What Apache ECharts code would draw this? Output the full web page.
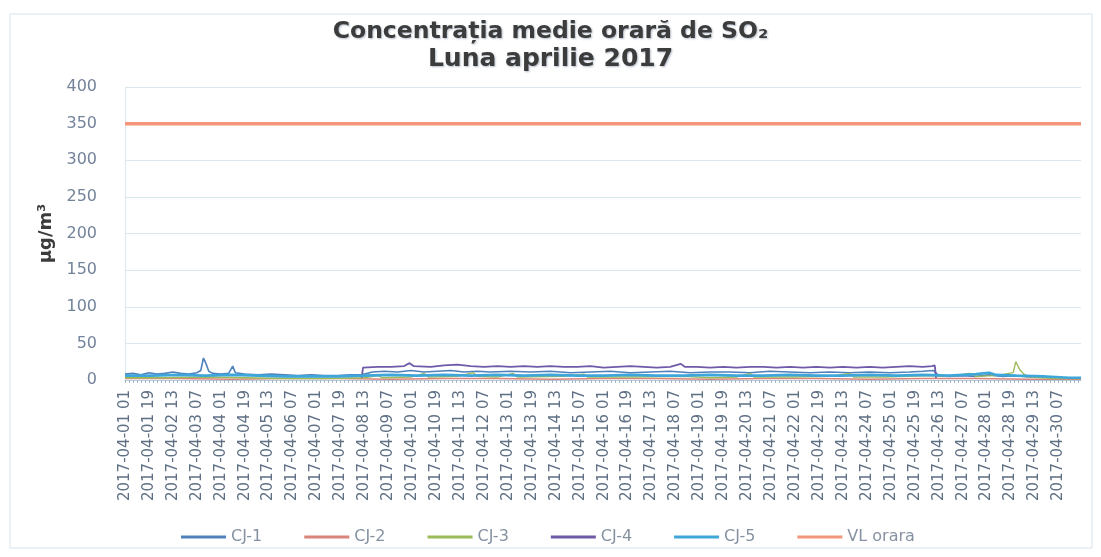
<!DOCTYPE html>
<html>
<head>
<meta charset="utf-8">
<script src="https://cdn.jsdelivr.net/npm/echarts@6/dist/echarts.min.js"></script>
<style>
html,body{margin:0;padding:0;background:#fff;}
#chart{width:1101px;height:557px;}
</style>
</head>
<body>
<div id="chart"></div>
<script>
// ---- data ----
const titleLine1 = 'Concentrația medie orară de SO₂';
const titleLine2 = 'Luna aprilie 2017';
const yAxisName = 'µg/m³';
const monthPrefix = '2017-04-';
const dayCount = 30;
const hoursPerDay = 24;
const seriesNames = ['CJ-1', 'CJ-2', 'CJ-3', 'CJ-4', 'CJ-5', 'VL orara'];
const yTicks = [0, 50, 100, 150, 200, 250, 300, 350, 400];

// [hour index, value] vertices
const cj1 = [[0,8],[6,9],[12,7],[18,10],[24,8],[30,9],[36,11],[42,9],[48,8],[54,10],[57,13],[59,30],[61,22],[63,12],[66,9],[72,8],[78,9],[81,19],[83,10],[90,8],[100,7],[110,8],[120,7],[130,6],[140,7],[150,6],[160,6],[170,7],[178,7],[186,11],[195,12],[205,11],[215,13],[225,11],[235,12],[245,13],[255,11],[265,12],[275,11],[290,12],[305,11],[320,12],[335,10],[350,11],[365,12],[380,10],[395,11],[410,12],[425,10],[440,11],[455,11],[470,10],[485,12],[500,11],[515,10],[530,11],[545,10],[560,11],[575,10],[590,11],[600,12],[608,13],[612,6],[620,5],[630,6],[640,5],[650,7],[660,5],[670,6],[680,4],[690,5],[700,3],[710,3],[719,3]];
const cj2 = [[0,2],[40,2],[80,1],[120,2],[160,2],[200,1],[240,2],[280,2],[320,1],[360,2],[400,2],[440,1],[480,2],[520,2],[560,1],[600,2],[640,2],[680,1],[719,1]];
const cj3 = [[0,3],[30,3],[60,4],[90,3],[120,2],[150,2],[180,3],[190,6],[194,3],[215,4],[225,9],[228,4],[250,5],[262,10],[265,5],[280,4],[292,9],[295,4],[330,5],[345,8],[348,4],[380,4],[420,5],[440,3],[460,4],[470,9],[473,4],[500,4],[530,5],[545,9],[548,4],[570,4],[590,5],[605,6],[615,5],[625,6],[635,9],[640,5],[655,6],[668,10],[670,25],[673,14],[676,8],[680,4],[700,2],[719,2]];
const cj4 = [[178,3],[179,17],[190,18],[200,18],[210,19],[214,23],[217,19],[230,18],[240,20],[250,21],[260,19],[270,18],[280,19],[290,18],[300,19],[310,18],[320,19],[330,18],[340,18],[350,19],[360,17],[370,18],[380,19],[390,18],[400,17],[410,18],[418,22],[421,18],[430,18],[440,17],[450,18],[460,17],[470,18],[480,18],[490,17],[500,18],[510,17],[520,18],[530,17],[540,18],[550,17],[560,18],[570,17],[580,18],[590,19],[600,18],[607,19],[609,20],[610,3]];
const cj5 = [[0,6],[20,6],[40,7],[60,6],[80,7],[100,6],[120,5],[140,5],[160,5],[180,6],[200,7],[220,6],[240,7],[260,6],[280,7],[300,6],[320,7],[340,6],[360,6],[380,7],[400,6],[420,6],[440,7],[460,6],[480,6],[500,7],[520,6],[540,6],[560,7],[580,6],[600,7],[620,6],[640,8],[650,10],[655,7],[670,6],[690,5],[700,4],[710,3],[719,3]];
const vlOrara = 350;

// ---- categories ----
function pad(n){ return (n < 10 ? '0' : '') + n; }
const categories = [];
for (let d = 1; d <= dayCount; d++) {
  for (let h = 1; h <= hoursPerDay; h++) categories.push(monthPrefix + pad(d) + ' ' + pad(h));
}
const vlData = [[0, vlOrara], [categories.length - 1, vlOrara]];

const colors = ['#4F81BD', '#D9837A', '#9BBB59', '#6E5AA8', '#3FA6DA', '#F3957B'];
const widths = [1.6, 1.4, 1.4, 1.8, 2.6, 3.5];
const seriesData = [cj1, cj2, cj3, cj4, cj5, vlData];

const chart = echarts.init(document.getElementById('chart'), null, {renderer: 'canvas'});
chart.setOption({
  animation: false,
  backgroundColor: '#ffffff',
  title: {
    text: '{a|' + titleLine1 + '}\n{b|' + titleLine2 + '}',
    left: 'center',
    top: 13,
    textStyle: {
      rich: {
        a: {fontFamily: 'DejaVu Sans', fontWeight: 'bold', fontSize: 23.5, lineHeight: 27, color: '#3c3c3c',
            textShadowColor: 'rgba(90,110,140,0.45)', textShadowBlur: 2, textShadowOffsetX: 1, textShadowOffsetY: 1},
        b: {fontFamily: 'DejaVu Sans', fontWeight: 'bold', fontSize: 25, lineHeight: 28, color: '#3c3c3c',
            textShadowColor: 'rgba(90,110,140,0.45)', textShadowBlur: 2, textShadowOffsetX: 1, textShadowOffsetY: 1}
      }
    }
  },
  graphic: [{
    type: 'rect', shape: {x: 10, y: 14, width: 1082, height: 534},
    style: {fill: 'none', stroke: '#d3e3ec', lineWidth: 1}, silent: true, z: -1
  }],
  legend: {
    data: seriesNames,
    left: 176, top: 524,
    icon: 'rect',
    itemWidth: 45, itemHeight: 3, itemGap: 42,
    textStyle: {fontFamily: 'DejaVu Sans', fontSize: 16, color: '#8692a2'}
  },
  grid: {left: 125, right: 20, top: 87, bottom: 177},
  xAxis: {
    type: 'category',
    data: categories,
    boundaryGap: false,
    axisLine: {show: true, lineStyle: {color: '#b9cbd8', width: 1}},
    axisTick: {show: true, interval: 2, length: 3, lineStyle: {color: '#9fb6cc'}},
    axisLabel: {
      interval: 17, rotate: 90, margin: 10,
      fontFamily: 'DejaVu Sans', fontSize: 15, color: '#5f7085'
    },
    splitLine: {show: false}
  },
  yAxis: {
    type: 'value', min: yTicks[0], max: yTicks[yTicks.length - 1], interval: 50,
    name: yAxisName, nameLocation: 'middle', nameGap: 64, nameRotate: 90,
    nameTextStyle: {fontFamily: 'DejaVu Sans', fontWeight: 'bold', fontSize: 18, color: '#3c3c3c'},
    axisLine: {show: true, lineStyle: {color: '#dde8ee'}},
    axisTick: {show: false},
    axisLabel: {fontFamily: 'DejaVu Sans', fontSize: 16, color: '#73839a', margin: 28},
    splitLine: {lineStyle: {color: '#d9e8ee', width: 1}}
  },
  series: seriesNames.map((name, i) => ({
    name: name,
    type: 'line',
    data: seriesData[i],
    symbol: 'none',
    showSymbol: false,
    z: i === 5 ? 1 : 3 + i,
    lineStyle: {color: colors[i], width: widths[i]},
    itemStyle: {color: colors[i]}
  }))
});
</script>
</body>
</html>
